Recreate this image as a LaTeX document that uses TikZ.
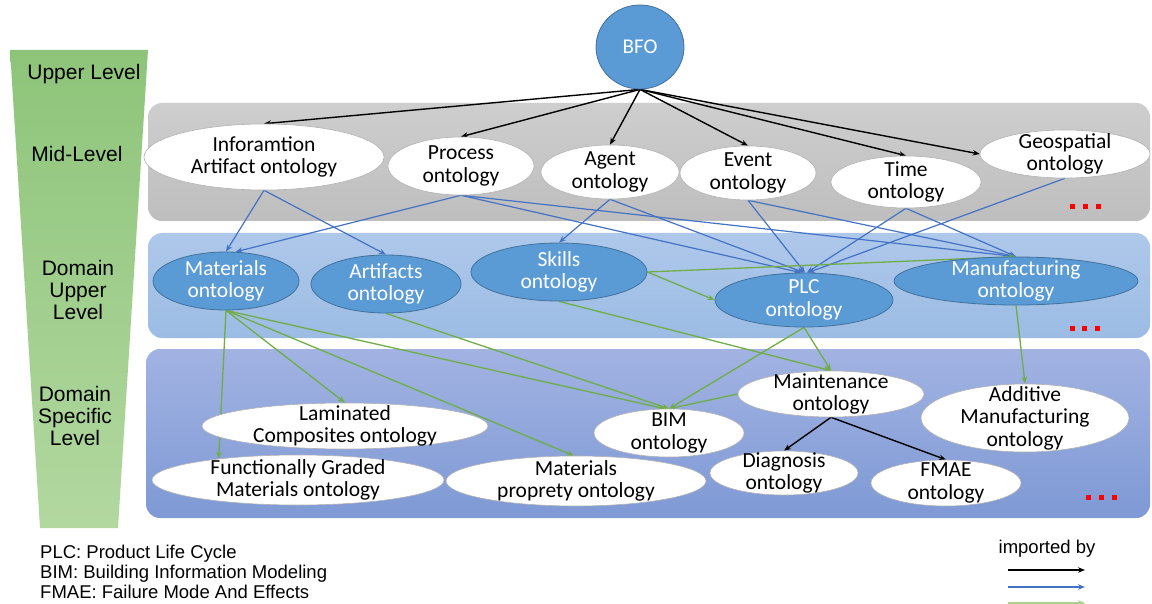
\documentclass[tikz,border=0pt]{standalone}
\usepackage{fontspec}
\setmainfont{Carlito}
\newfontfamily\arialf{Liberation Sans}
\usetikzlibrary{arrows.meta,shapes.geometric}
\definecolor{bluefill}{HTML}{5B9BD5}
\definecolor{blueedge}{HTML}{41719C}
\definecolor{arrblue}{HTML}{4472C4}
\definecolor{arrgreen}{HTML}{70AD47}
\definecolor{lgtgreen}{HTML}{A9D18E}
\pgfdeclarelayer{back}
\pgfdeclarelayer{mid}
\pgfsetlayers{back,mid,main}
\begin{document}
\begin{tikzpicture}[x=1pt,y=-1pt,
  wht/.style={ellipse, draw=gray!60, line width=0.6pt, fill=white, inner sep=0pt},
  dkb/.style={ellipse, draw=blueedge, line width=0.8pt, fill=bluefill, inner sep=0pt},
  lbl/.style={font=\fontsize{21.5}{22.5}\selectfont, align=center, inner sep=0pt, text=black},
  wlbl/.style={lbl, text=white},
  lvl/.style={font=\arialf\fontsize{21}{22}\selectfont, align=center, inner sep=0pt},
  leg/.style={font=\arialf\fontsize{18.5}{20}\selectfont, inner sep=0pt},
  tip/.style={-{Stealth[length=7pt,width=5.5pt]}},
  blk/.style={draw=black, line width=1.4pt, tip},
  blu/.style={draw=arrblue, line width=1.2pt, tip},
  grn/.style={draw=arrgreen, line width=1.3pt, tip},
  rdot/.style={fill=red, minimum size=5pt, inner sep=0pt},
]
\useasboundingbox (0,0) rectangle (1152,604);

% ---------- background bands ----------
\begin{pgfonlayer}{back}
\fill[white] (0,0) rectangle (1152,604);
\shade[top color={rgb,255:red,142;green,196;blue,122}, bottom color={rgb,255:red,178;green,216;blue,160}]
  (10,50) -- (148,50) -- (118,528) -- (40,528) -- cycle;
\shade[rounded corners=14pt, top color={rgb,255:red,206;green,206;blue,206}, bottom color={rgb,255:red,190;green,190;blue,190}]
  (148,103) rectangle (1150,221);
\shade[rounded corners=14pt, top color={rgb,255:red,174;green,200;blue,234}, bottom color={rgb,255:red,156;green,188;blue,228}]
  (148,233) rectangle (1150,338);
\shade[rounded corners=14pt, top color={rgb,255:red,162;green,179;blue,226}, bottom color={rgb,255:red,126;green,153;blue,213}]
  (146,349) rectangle (1150,518);
\end{pgfonlayer}

% ---------- level labels ----------
\node[lvl] (l1) at (84,74) {Upper Level};
\node[lvl] (l2) at (77,154) {Mid-Level};
\node[lvl] (l3) at (78,290) {Domain\\Upper\\Level};
\node[lvl] (l4) at (75,416) {Domain\\Specific\\Level};

% ---------- nodes ----------
\node[dkb, minimum width=88pt, minimum height=84pt] (bfo) at (640,47) {};
\node[wlbl, font=\fontsize{21}{22}\selectfont] (bfot) at (bfo) {BFO};

\node[wht, minimum width=240pt, minimum height=66pt] (ia) at (264,157) {};
\node[wht, minimum width=146pt, minimum height=58pt] (pro) at (461,166) {};
\node[wht, minimum width=138pt, minimum height=54pt] (age) at (610,172) {};
\node[wht, minimum width=136pt, minimum height=54pt] (eve) at (748,173) {};
\node[wht, minimum width=150pt, minimum height=52pt] (tim) at (906,182) {};
\node[wht, minimum width=170pt, minimum height=48pt] (geo) at (1065,154) {};

\node[dkb, minimum width=146pt, minimum height=58pt] (mat) at (226,281) {};
\node[dkb, minimum width=150pt, minimum height=58pt] (art) at (386,284) {};
\node[dkb, minimum width=176pt, minimum height=58pt] (ski) at (559,272) {};
\node[dkb, minimum width=178pt, minimum height=54pt] (plc) at (804,300) {};
\node[dkb, minimum width=244pt, minimum height=48pt] (man) at (1016,281) {};

\node[wht, minimum width=286pt, minimum height=46pt] (lam) at (345,426) {};
\node[wht, minimum width=292pt, minimum height=50pt] (fg) at (298,480) {};
\node[wht, minimum width=260pt, minimum height=50pt] (mp) at (576,481) {};
\node[wht, minimum width=150pt, minimum height=48pt] (bim) at (669,433) {};
\node[wht, minimum width=186pt, minimum height=46pt] (mai) at (831,394) {};
\node[wht, minimum width=208pt, minimum height=68pt] (add) at (1025,418) {};
\node[wht, minimum width=148pt, minimum height=44pt] (dia) at (784,473) {};
\node[wht, minimum width=150pt, minimum height=46pt] (fma) at (946,483) {};

% ---------- node texts ----------
\node[lbl] (iat) at (ia) {Inforamtion\\Artifact ontology};
\node[lbl] (prot) at (pro) {Process\\ontology};
\node[lbl] (aget) at (age) {Agent\\ontology};
\node[lbl] (evet) at (eve) {Event\\ontology};
\node[lbl] (timt) at (tim) {Time\\ontology};
\node[lbl] (geot) at (geo) {Geospatial\\ontology};

\node[wlbl] (matt) at (mat) {Materials\\ontology};
\node[wlbl] (artt) at (art) {Artifacts\\ontology};
\node[wlbl] (skit) at (ski) {Skills\\ontology};
\node[wlbl] (plct) at (plc) {PLC\\ontology};
\node[wlbl] (mant) at (man) {Manufacturing\\ontology};

\node[lbl] (lamt) at (lam) {Laminated\\Composites ontology};
\node[lbl] (fgt) at (fg) {Functionally Graded\\Materials ontology};
\node[lbl] (mpt) at (mp) {Materials\\proprety ontology};
\node[lbl] (bimt) at (bim) {BIM\\ontology};
\node[lbl] (mait) at (mai) {Maintenance\\ontology};
\node[lbl] (addt) at (add) {Additive\\Manufacturing\\ontology};
\node[lbl] (diat) at (dia) {Diagnosis\\ontology};
\node[lbl] (fmat) at (fma) {FMAE\\ontology};

% ---------- red dots ----------
\node[rdot] (r1a) at (1072,207) {};
\node[rdot] (r1b) at (1085,207) {};
\node[rdot] (r1c) at (1098,207) {};
\node[rdot] (r2a) at (1072,328) {};
\node[rdot] (r2b) at (1084,328) {};
\node[rdot] (r2c) at (1097,328) {};
\node[rdot] (r3a) at (1088,497) {};
\node[rdot] (r3b) at (1101,497) {};
\node[rdot] (r3c) at (1114,497) {};

% ---------- connectors ----------
\begin{pgfonlayer}{mid}
\draw[blk] (bfo.south) -- (ia.north);
\draw[blk] (bfo.south) -- (pro.north);
\draw[blk] (bfo.south) -- (age.north);
\draw[blk] (bfo.south) -- (eve.north);
\draw[blk] (bfo.south) -- (tim.north);
\draw[blk] (bfo.south) -- (geo.west);

\draw[blu] (ia.south) -- (mat.north);
\draw[blu] (ia.south) -- (art.north);
\draw[blu] (pro.south) -- (mat.72);
\draw[blu] (pro.south) -- (plc.97);
\draw[blu] (pro.south) -- (man.north);
\draw[blu] (age.south) -- (ski.north);
\draw[blu] (age.south) -- (plc.north);
\draw[blu] (eve.south) -- (plc.88);
\draw[blu] (eve.south) -- (man.north);
\draw[blu] (tim.south) -- (plc.84);
\draw[blu] (tim.south) -- (man.north);
\draw[blu] (geo.south) -- (plc.82);

\draw[grn] (ski.east) -- (man.north);
\draw[grn] (ski.east) -- (plc.west);
\draw[grn] (ski.south) -- (mai.north);
\draw[grn] (plc.south) -- (mai.north);
\draw[grn] (plc.south) -- (bim.north);
\draw[grn] (mai.west) -- (bim.north);
\draw[grn] (mat.south) -- (fg.165);
\draw[grn] (mat.south) -- (lam.north);
\draw[grn] (mat.south) -- (mp.95);
\draw[grn] (mat.south) -- (bim.100);
\draw[grn] (art.south) -- (bim.north);
\draw[grn] (man.south) -- (add.north);

\draw[blk] (mai.south) -- (dia.north);
\draw[blk] (mai.south) -- (fma.north);
\end{pgfonlayer}

% ---------- legends ----------
\node[leg, align=left, anchor=west] (abbr) at (40,572) {PLC: Product Life Cycle\\BIM: Building Information Modeling\\FMAE: Failure Mode And Effects};
\node[leg] (imp) at (1047,549) {imported by};
\coordinate (k1a) at (1008,570);
\coordinate (k1b) at (1085,570);
\coordinate (k2a) at (1008,587);
\coordinate (k2b) at (1085,587);
\coordinate (k3a) at (1008,603);
\coordinate (k3b) at (1085,603);
\draw[blk] (k1a) -- (k1b);
\draw[blu] (k2a) -- (k2b);
\draw[draw=lgtgreen, line width=1.2pt, tip] (k3a) -- (k3b);
\end{tikzpicture}
\end{document}
